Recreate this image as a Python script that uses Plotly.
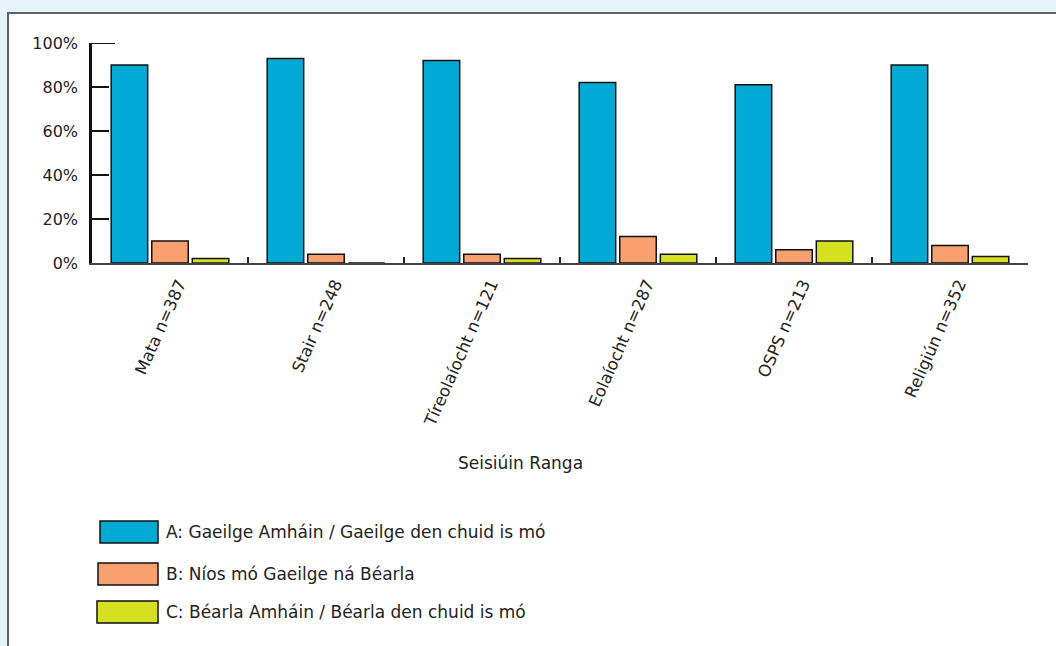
import plotly.graph_objects as go

# Data
subjects = ["Mata n=387", "Stair n=248", "Tíreolaíocht n=121",
            "Eolaíocht n=287", "OSPS n=213", "Religiún n=352"]
series_names = ["A: Gaeilge Amháin / Gaeilge den chuid is mó",
                "B: Níos mó Gaeilge ná Béarla",
                "C: Béarla Amháin / Béarla den chuid is mó"]
vals_a = [90, 93, 92, 82, 81, 90]
vals_b = [10, 4, 4, 12, 6, 8]
vals_c = [2, 0, 2, 4, 10, 3]
colors = ["#00aad4", "#f9a070", "#d6e022"]

FONT = "DejaVu Sans"
BG = "#e5f4f9"
W, H = 1056, 646
L, R, T, B = 92, 28, 43, 646 - 263
pw, ph = W - L - R, H - T - B


# page pixel -> paper coordinate
def px(x):
    return (x - L) / pw


def py(y):
    return (H - B - y) / ph


fig = go.Figure()
for name, vals, col in zip(series_names, [vals_a, vals_b, vals_c], colors):
    fig.add_trace(go.Bar(x=subjects, y=vals, name=name, marker_color=col,
                         marker_line_color="#111111", marker_line_width=1.5,
                         showlegend=False))

# white panel with grey border
fig.add_shape(type="rect", xref="paper", yref="paper",
              x0=px(8), x1=px(1080), y0=py(13), y1=py(680),
              fillcolor="white", line=dict(color="#5f6366", width=2),
              layer="below")

# longer cap tick at 100%
fig.add_shape(type="line", xref="paper", yref="y", x0=px(92), x1=px(115),
              y0=100, y1=100, line=dict(color="#111", width=2))

# legend drawn as swatches + text
legend_y = [532, 574, 612]
legend_x0 = [100, 98, 97]
for name, col, yy, x0 in zip(series_names, colors, legend_y, legend_x0):
    fig.add_shape(type="rect", xref="paper", yref="paper",
                  x0=px(x0), x1=px(158), y0=py(yy - 11), y1=py(yy + 11),
                  fillcolor=col, line=dict(color="#111111", width=1.5))
    fig.add_annotation(x=px(164), y=py(yy), xref="paper", yref="paper",
                       text=name, showarrow=False, xanchor="left",
                       yanchor="middle", font=dict(family=FONT, size=17, color="#222"))

# axis title
fig.add_annotation(x=px(520), y=py(463), xref="paper", yref="paper",
                   text="Seisiúin Ranga", showarrow=False, xanchor="center",
                   yanchor="middle", font=dict(family=FONT, size=17, color="#222"))

fig.update_layout(
    width=W, height=H,
    margin=dict(l=L, r=R, t=T, b=B),
    paper_bgcolor=BG, plot_bgcolor="rgba(0,0,0,0)",
    barmode="group", bargap=0.22, bargroupgap=0.1,
    font=dict(family=FONT, size=16, color="#222"),
)
fig.update_xaxes(showline=True, linecolor="#444", linewidth=2,
                 ticks="inside", tickson="boundaries", ticklen=6, tickwidth=2,
                 tickcolor="#222", tickangle=-66, ticklabelstandoff=3,
                 ticklabelshift=9, showgrid=False, tickfont=dict(size=16.5))
fig.update_yaxes(range=[0, 100], dtick=20, ticksuffix="%", showline=True,
                 linecolor="#111", linewidth=2.5, ticks="inside", ticklen=17,
                 tickwidth=2, tickcolor="#111", showgrid=False, zeroline=False,
                 ticklabelstandoff=8, tickfont=dict(size=16))

fig.write_html("out.html", config={"displayModeBar": False},
               post_script="document.body.style.margin='0';"
                           "document.body.style.background='%s';" % BG)
